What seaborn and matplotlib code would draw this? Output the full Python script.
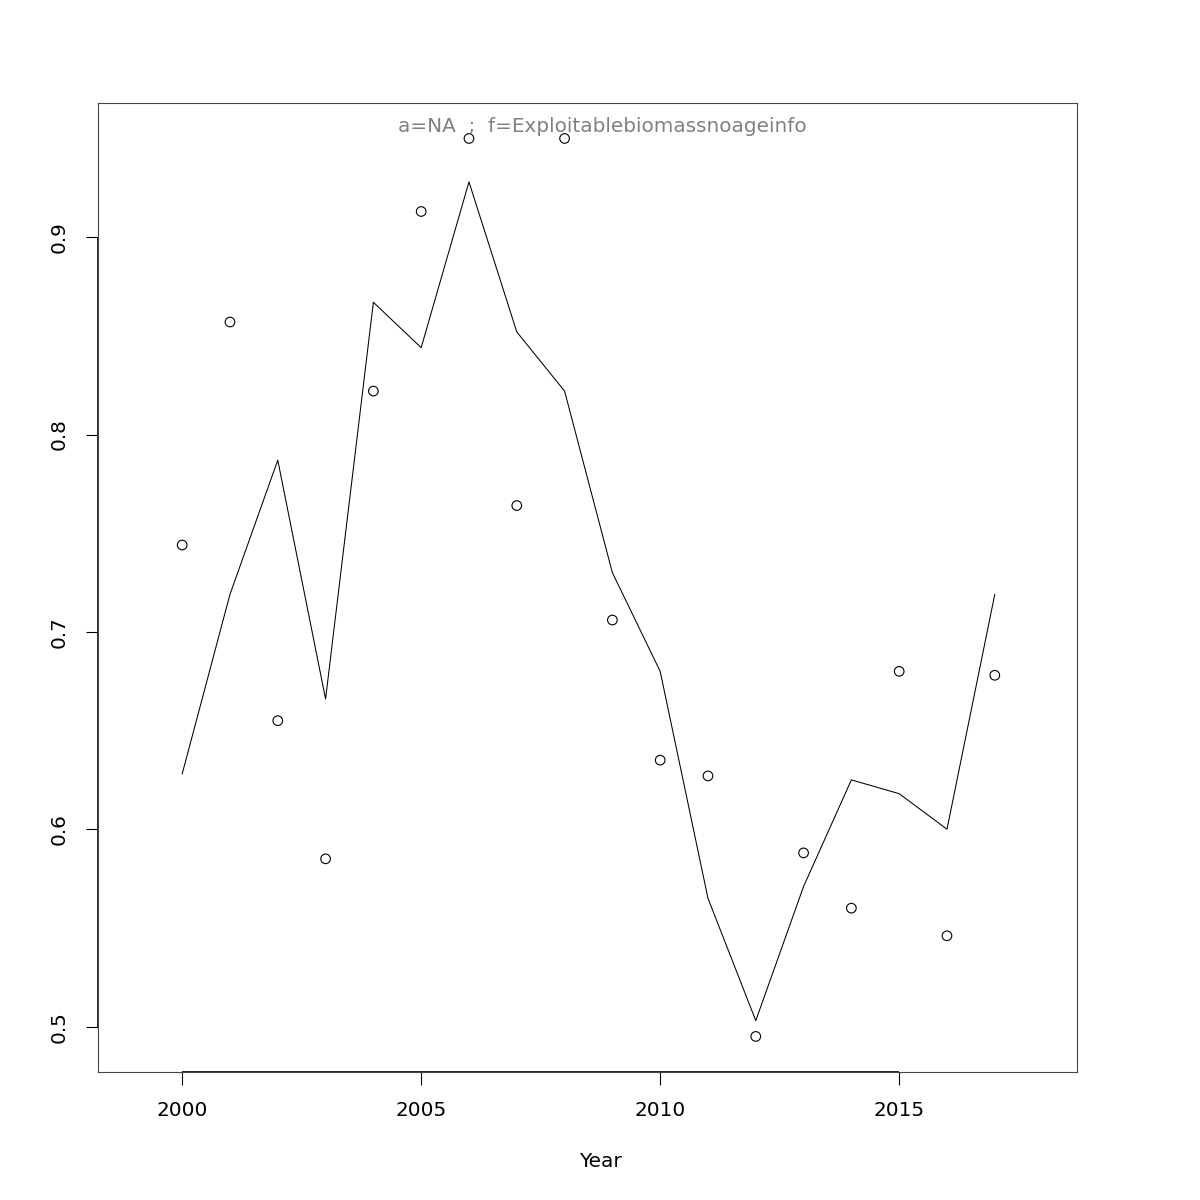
import pandas as pd
import matplotlib
matplotlib.use("Agg")
import matplotlib.pyplot as plt
import seaborn as sns

years = list(range(2000, 2018))
observed = [0.744, 0.857, 0.655, 0.585, 0.822, 0.913, 0.950, 0.764, 0.950,
            0.706, 0.635, 0.627, 0.495, 0.588, 0.560, 0.680, 0.546, 0.678]
fitted = [0.628, 0.719, 0.787, 0.666, 0.867, 0.844, 0.928, 0.852, 0.822,
          0.730, 0.680, 0.565, 0.503, 0.571, 0.625, 0.618, 0.600, 0.719]
x_ticks = [2000, 2005, 2010, 2015]
y_ticks = [0.5, 0.6, 0.7, 0.8, 0.9]
label_text = "a=NA  ;  f=Exploitablebiomassnoageinfo"

df = pd.DataFrame({"Year": years, "obs": observed, "fit": fitted})

sns.set_style("white")
plt.rcParams['font.family'] = ['DejaVu Sans']

fig = plt.figure(figsize=(12, 12), dpi=100)
ax = fig.add_axes([0.0817, 0.1067, 0.8158, 0.8075])

# points and fitted line
sns.scatterplot(data=df, x="Year", y="obs", ax=ax, s=48, facecolor="none",
                edgecolor="black", linewidth=0.8, marker="o")
sns.lineplot(data=df, x="Year", y="fit", ax=ax, color="black", linewidth=0.75)

ax.set_xlim(1998.24, 2018.72)
ax.set_ylim(0.477, 0.968)

ax.set_xticks(x_ticks)
ax.set_yticks(y_ticks)
ax.set_yticklabels([str(v) for v in y_ticks], rotation=90, va="center")
ax.tick_params(axis="both", direction="out", length=9, width=0.8,
               labelsize=14.4, color="black", labelcolor="black",
               bottom=True, left=True)
ax.tick_params(axis="x", pad=12)
ax.tick_params(axis="y", pad=12)

for sp in ax.spines.values():
    sp.set_color("#444444")
    sp.set_linewidth(0.8)

# R-style axis lines from first to last tick
ax.hlines(0.477, x_ticks[0], x_ticks[-1], color="black", linewidth=1.2, clip_on=False)
ax.vlines(1998.24, y_ticks[0], y_ticks[-1], color="black", linewidth=1.2, clip_on=False)

ax.set_xlabel("Year", fontsize=14.4, color="black")
ax.xaxis.set_label_coords(0.513, -0.083)
ax.set_ylabel("")
ax.text(0.515, 0.985, label_text, transform=ax.transAxes, ha="center", va="top",
        fontsize=14.4, color="#808080")

plt.savefig("out.png", dpi=100)
